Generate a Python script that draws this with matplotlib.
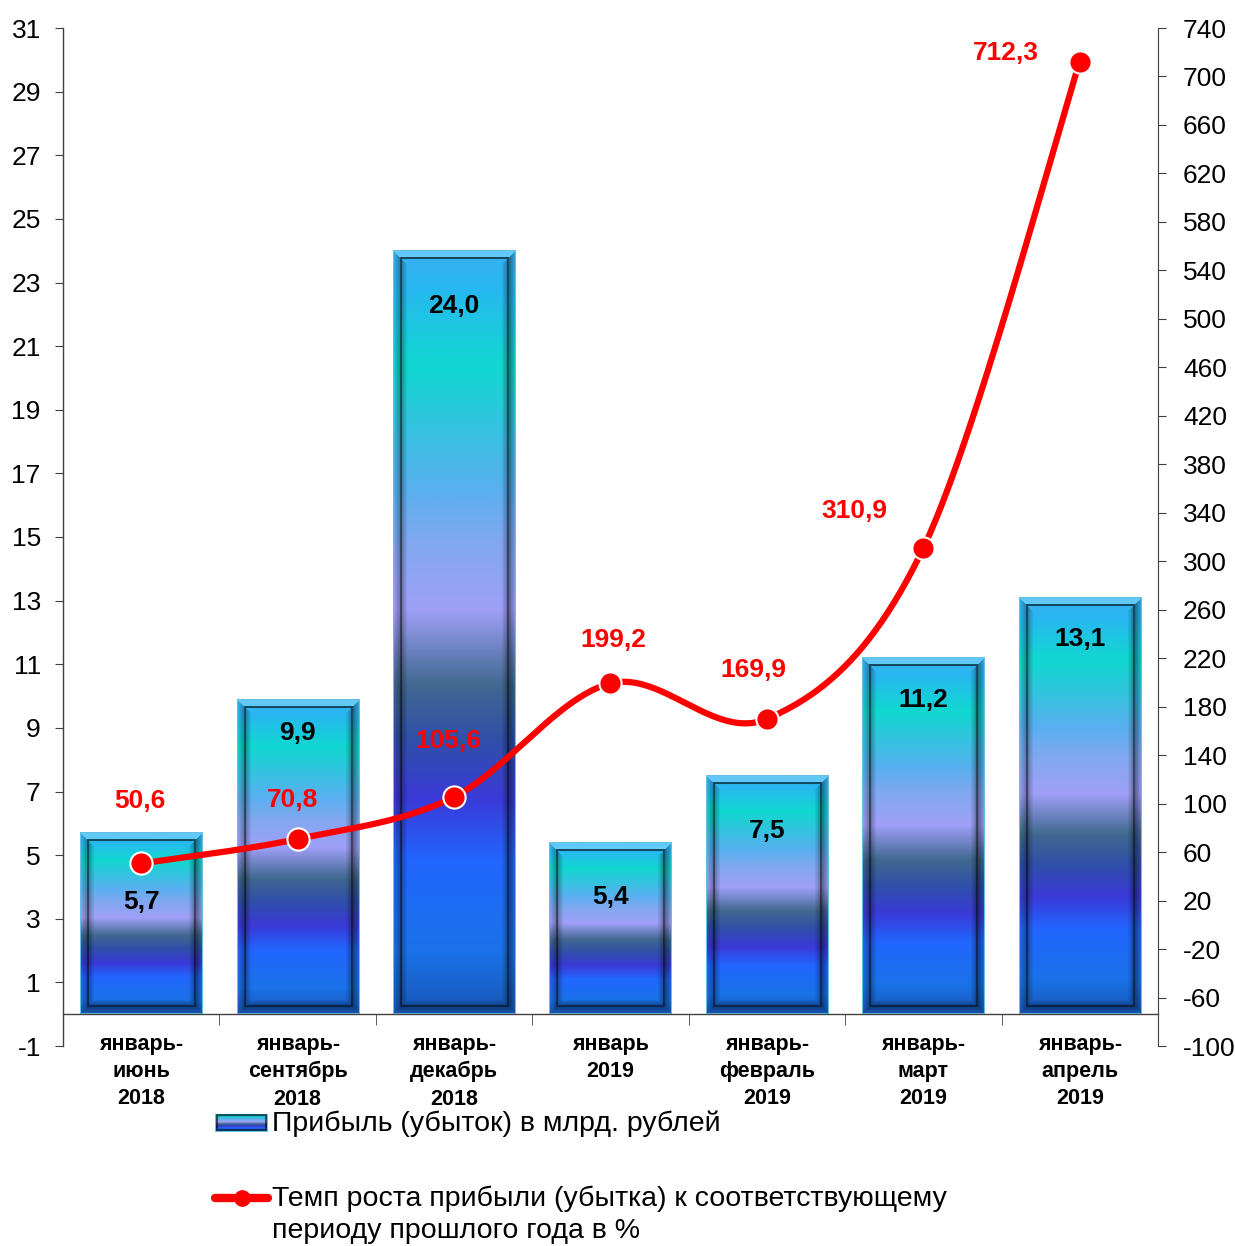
import numpy as np
import matplotlib.pyplot as plt
from matplotlib.colors import LinearSegmentedColormap

plt.rcParams['font.family'] = ['Liberation Sans', 'DejaVu Sans']
plt.rcParams['axes.unicode_minus'] = False

# данные
categories = ['январь-\nиюнь\n2018', 'январь-\nсентябрь\n2018', 'январь-\nдекабрь\n2018',
              'январь\n2019', 'январь-\nфевраль\n2019', 'январь-\nмарт\n2019',
              'январь-\nапрель\n2019']
profit = [5.7, 9.9, 24.0, 5.4, 7.5, 11.2, 13.1]
growth = [50.6, 70.8, 105.6, 199.2, 169.9, 310.9, 712.3]
legend_bar = 'Прибыль (убыток) в млрд. рублей'
legend_line = 'Темп роста прибыли (убытка) к соответствующему\nпериоду прошлого года в %'

# смещения подписей (в пунктах)
bar_label_off = [-50, -24, -40, -39, -40, -30, -30]
line_label_off = [(-1, 45), (-4, 28), (-4, 40), (2, 31), (-10, 35), (-50, 27), (-53, 6)]

RED = '#ff0000'
W = 0.78

grad = LinearSegmentedColormap.from_list('bar', [
    (0.00, '#1858b8'), (0.08, '#1a72e8'), (0.20, '#2266ff'), (0.28, '#3a3ad8'),
    (0.36, '#3050a8'), (0.43, '#406890'), (0.53, '#a0a0f8'), (0.62, '#80a8f0'),
    (0.69, '#58b0f0'), (0.85, '#10d8d0'), (0.95, '#28b8f0'), (1.00, '#38b0f0')])


def bar_image(h_px, w_px, b=8, sh=6):
    h_px = max(int(h_px), 2 * b + 2)
    t = np.linspace(1, 0, h_px)
    base = grad(t)[:, :3]
    img = np.repeat(base[:, None, :], w_px, axis=1)
    ii, jj = np.mgrid[0:h_px, 0:w_px]
    d = np.stack([ii, h_px - 1 - ii, jj, w_px - 1 - jj])
    dmin = d.min(0)
    side = d.argmin(0)
    f = (dmin / b)[..., None]
    out = img.copy()
    band = dmin < b
    top = band & (side == 0)
    bot = band & (side == 1)
    lft = band & (side == 2)
    rgt = band & (side == 3)
    light = np.array([0.6, 0.9, 1.0])
    out[top] = (img * 0.55 + 0.45 * light)[top]
    out[lft] = (img * (1.0 - 0.35 * f))[lft]
    out[rgt] = (img * (0.95 - 0.45 * f))[rgt]
    out[bot] = (img * (1.0 - 0.45 * f))[bot]
    # внутренняя тень
    face = (dmin >= b) & (dmin < b + sh) & (side != 0)
    g = np.clip((dmin - b) / sh, 0, 1)[..., None]
    out[face] = (img * (0.7 + 0.3 * g))[face]
    inner = (dmin == b) | (dmin == b - 1)
    out[inner] = img[inner] * 0.4
    out[dmin == 0] = np.array([0.4, 0.75, 0.9])
    return np.clip(out, 0, 1)


def smooth(xs, ys, n=50):
    xs = np.asarray(xs, float)
    ys = np.asarray(ys, float)
    px = np.concatenate([[xs[0]], xs, [xs[-1]]])
    py = np.concatenate([[ys[0]], ys, [ys[-1]]])
    sx, sy = [], []
    t = np.linspace(0, 1, n)
    for i in range(1, len(px) - 2):
        c1x = px[i] + (px[i + 1] - px[i - 1]) / 6
        c1y = py[i] + (py[i + 1] - py[i - 1]) / 6
        c2x = px[i + 1] - (px[i + 2] - px[i]) / 6
        c2y = py[i + 1] - (py[i + 2] - py[i]) / 6
        bx = (1 - t) ** 3 * px[i] + 3 * (1 - t) ** 2 * t * c1x + 3 * (1 - t) * t ** 2 * c2x + t ** 3 * px[i + 1]
        by = (1 - t) ** 3 * py[i] + 3 * (1 - t) ** 2 * t * c1y + 3 * (1 - t) * t ** 2 * c2y + t ** 3 * py[i + 1]
        sx.extend(bx)
        sy.extend(by)
    return np.array(sx), np.array(sy)


fig = plt.figure(figsize=(12.35, 12.46), dpi=100)
ax = fig.add_axes([63 / 1235, 1 - 1046 / 1246, 1095 / 1235, 1018 / 1246])
x = np.arange(len(categories))

px_per_x = 1095 / len(categories)
px_per_y = 1018 / 32
for i, v in enumerate(profit):
    img = bar_image(v * px_per_y, int(W * px_per_x))
    ax.imshow(img, extent=(i - W / 2, i + W / 2, 0, v), aspect='auto',
              interpolation='bilinear', zorder=2)
    ax.annotate(f'{v:.1f}'.replace('.', ','), (i, v), xytext=(0, bar_label_off[i]),
                textcoords='offset points', ha='center', va='center',
                fontsize=19, fontweight='bold', color='black', zorder=5)
ax.set_xlim(-0.5, len(categories) - 0.5)
ax.set_ylim(-1, 31)

ax.spines['bottom'].set_position(('data', 0))
for s in ['top', 'right']:
    ax.spines[s].set_visible(False)
for s in ['left', 'bottom']:
    ax.spines[s].set_color('#404040')
    ax.spines[s].set_linewidth(1)

ax.set_yticks(np.arange(-1, 32, 2))
ax.tick_params(axis='y', labelsize=19, length=6, color='#404040', pad=10)
ax.set_xticks(np.arange(0.5, len(categories) - 1, 1), minor=True)
ax.tick_params(axis='x', which='major', length=0, pad=14, labelsize=15.5)
ax.tick_params(axis='x', which='minor', length=8, color='#404040')
ax.set_xticks(x)
ax.set_xticklabels(categories, fontsize=15.5, fontweight='bold', linespacing=1.4)

ax2 = ax.twinx()
ax2.set_ylim(-100, 740)
ax2.set_yticks(np.arange(-100, 741, 40))
ax2.tick_params(axis='y', labelsize=19, length=6, color='#404040', pad=12)
for s in ['top', 'left', 'bottom']:
    ax2.spines[s].set_visible(False)
ax2.spines['right'].set_color('#404040')

sx, sy = smooth(x, growth)
ax2.plot(sx, sy, color=RED, lw=4.5, solid_capstyle='round', zorder=3)
ax2.plot(x, growth, 'o', color=RED, ms=16, mec='white', mew=1.5, zorder=4)
for i, g in enumerate(growth):
    ax2.annotate(f'{g:.1f}'.replace('.', ','), (i, g), xytext=line_label_off[i],
                 textcoords='offset points', ha='center', va='center',
                 fontsize=19, fontweight='bold', color=RED, zorder=6)

# легенда
lax = fig.add_axes([215 / 1235, 1 - 1132 / 1246, 53 / 1235, 18 / 1246])
lax.imshow(bar_image(18, 53, b=2, sh=1), aspect='auto', interpolation='bilinear')
lax.axis('off')
fig.text(272 / 1235, 1 - 1124 / 1246, legend_bar, ha='left', va='center', fontsize=20.5)

lax2 = fig.add_axes([215 / 1235, 1 - 1208 / 1246, 53 / 1235, 20 / 1246])
lax2.plot([0, 0.36], [0, 0], color=RED, lw=6, solid_capstyle='round', clip_on=False)
lax2.plot([0.64, 1], [0, 0], color=RED, lw=6, solid_capstyle='round', clip_on=False)
lax2.plot([0.5], [0], 'o', color=RED, ms=11, clip_on=False)
lax2.set_xlim(0, 1)
lax2.set_ylim(-1, 1)
lax2.axis('off')
fig.text(272 / 1235, 1 - 1215 / 1246, legend_line, ha='left', va='center',
         fontsize=20.5, linespacing=1.3)

fig.savefig('out.png', dpi=100)
